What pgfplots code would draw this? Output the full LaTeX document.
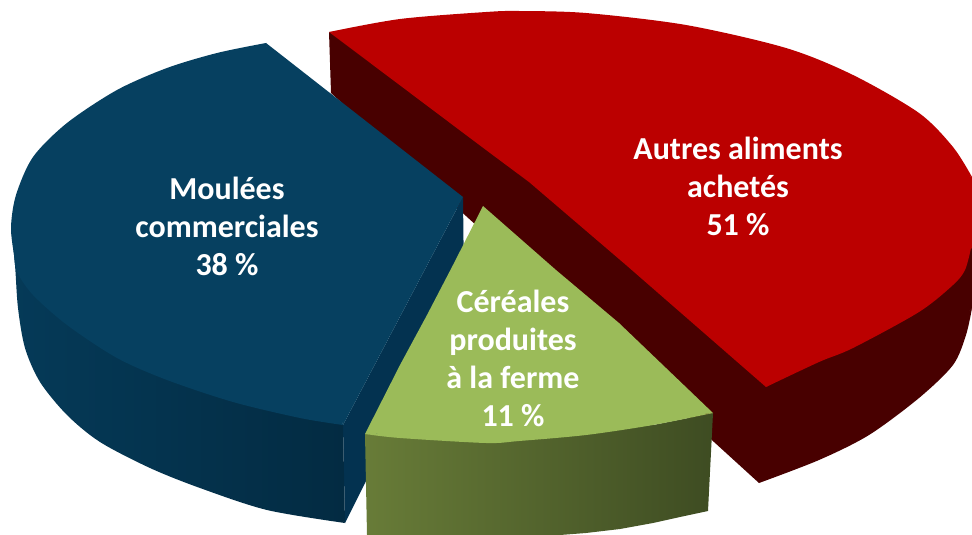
\documentclass[border=0pt]{standalone}
\usepackage{fontspec}
\setmainfont{Carlito}
\usepackage{pgfplots}
\pgfplotsset{compat=1.18}
\definecolor{redtop}{RGB}{187,0,0}
\definecolor{reddark}{RGB}{72,0,0}
\definecolor{bluetop}{RGB}{6,64,96}
\definecolor{blueside}{RGB}{3,50,80}
\definecolor{blueL}{RGB}{5,58,88}
\definecolor{blueR}{RGB}{3,43,66}
\definecolor{greentop}{RGB}{155,187,89}
\definecolor{greenL}{RGB}{104,124,56}
\definecolor{greenR}{RGB}{62,76,34}
\tikzset{lab/.style={text=white, font=\fontsize{32}{38}\selectfont\bfseries, align=center, anchor=center}}
\begin{document}
\begin{tikzpicture}
\begin{axis}[
  scale only axis, width=972pt, height=535pt,
  xmin=0, xmax=972, ymin=0, ymax=535, y dir=reverse,
  hide axis, clip=true,
  every axis plot/.append style={draw=none, line width=0pt},
]
% red side: straight part, outer arc
\addplot[fill=reddark] coordinates {
 (329,32)(331,93)(759,483)(860,420)(972,308)(972,200)(800,300)(700,250)(500,120)};
\addplot[fill=reddark, smooth] coordinates {
 (759,483)(819,460)(869,435)(919,398)(953,365)(966,335)(972,308)};
% red top: straight part, upper arc, lower arc
\addplot[fill=redtop] coordinates {
 (329,32)(650,60)(972,177)(972,248)(860,335)(766,387)(696,326)(626,265)(529,182)(486,150)};
\addplot[fill=redtop, smooth] coordinates {
 (329,32)(400,19)(486,12)(519,11)(586,13)(686,25)(786,48)(853,75)(919,113)(953,147)(972,177)};
\addplot[fill=redtop, smooth] coordinates {
 (971,248)(965,270)(953,285)(919,312)(853,348)(819,362)(766,387)};
% blue inner side
\addplot[fill=blueside] coordinates {(463,197)(464,285)(345,523)(343,425)};
% blue outer side: straight part, outer arc (same horizontal extent, same gradient)
\addplot[left color=blueL, right color=blueR] coordinates {
 (11,227)(150,380)(345,523)(343,425)};
\addplot[left color=blueL, right color=blueR, smooth] coordinates {
 (11,227)(15,265)(18,308)(25,348)(40,382)(67,415)(100,442)(150,468)(200,488)(267,510)(345,523)};
% blue top: straight part, arc
\addplot[fill=bluetop] coordinates {(266,43)(280,230)(343,425)(463,197)};
\addplot[fill=bluetop, smooth] coordinates {
 (266,43)(217,53)(167,68)(117,90)(67,123)(33,157)(16,195)(11,227)(14,255)(17,272)(33,295)(67,325)(117,358)(167,380)(233,402)(300,418)(343,425)};
% green side
\addplot[left color=greenL, right color=greenR] coordinates {
 (365,434)(367,535)(560,535)(586,533)(620,529)(653,523)(680,517)(708,511)(713,413)(653,425)(586,430)(519,435)(486,438)(400,436)};
% green top: straight part, arc
\addplot[fill=greentop] coordinates {
 (483,206)(453,265)(427,315)(400,365)(365,434)(540,430)(713,413)(619,323)(556,270)};
\addplot[fill=greentop, smooth] coordinates {
 (365,434)(400,438)(486,443)(519,441)(586,435)(653,425)(713,413)};
\node[lab] at (axis cs:227,226) {Moulées\\commerciales\\38 \%};
\node[lab] at (axis cs:738,186) {Autres aliments\\achetés\\51 \%};
\node[lab] at (axis cs:513,358) {Céréales\\produites\\à la ferme\\11 \%};
\end{axis}
\path (current axis.south west) rectangle (current axis.north east);
\end{tikzpicture}
\end{document}
